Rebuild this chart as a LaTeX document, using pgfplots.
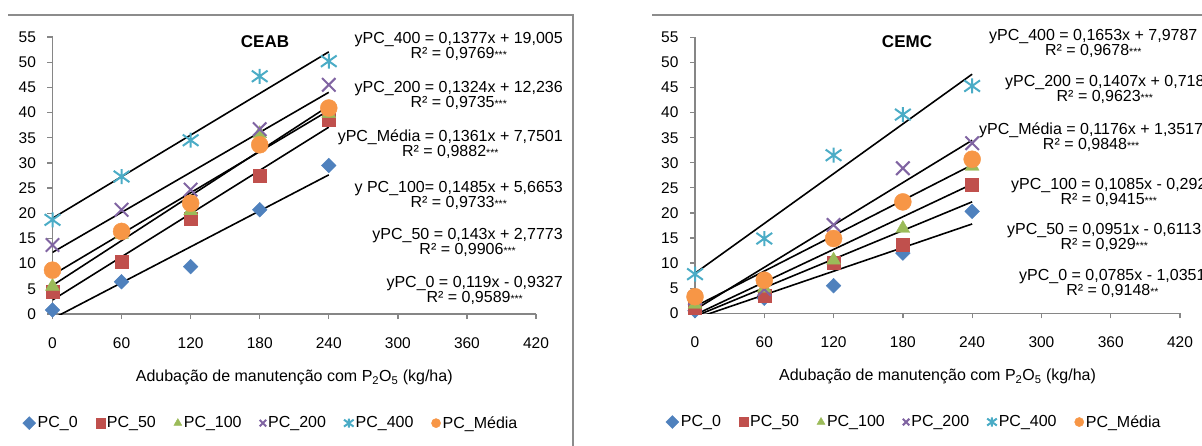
\documentclass[border=0pt]{standalone}
\usepackage{fontspec}
\setmainfont{Liberation Sans}
\usepackage{pgfplots}
\pgfplotsset{compat=1.18}
\definecolor{c0}{HTML}{4F81BD}
\definecolor{c50}{HTML}{C0504D}
\definecolor{c100}{HTML}{9BBB59}
\definecolor{c200}{HTML}{8064A2}
\definecolor{c400}{HTML}{4BACC6}
\definecolor{cmed}{HTML}{F79646}
\definecolor{axisgray}{HTML}{868686}
\definecolor{framegray}{HTML}{8C8C8C}
\newcommand{\ft}{\fontsize{16}{15}\selectfont}
\newcommand{\fk}{\fontsize{15.5}{15.5}\selectfont}
\newcommand{\st}{{\fontsize{10.5}{10}\selectfont***}}
\newcommand{\sst}{{\fontsize{10.5}{10}\selectfont**}}
\pgfdeclareplotmark{xstar}{%
  \pgfpathmoveto{\pgfqpoint{0pt}{\pgfplotmarksize}}%
  \pgfpathlineto{\pgfqpoint{0pt}{-\pgfplotmarksize}}%
  \pgfpathmoveto{\pgfqpoint{-1.05\pgfplotmarksize}{.75\pgfplotmarksize}}%
  \pgfpathlineto{\pgfqpoint{1.05\pgfplotmarksize}{-.75\pgfplotmarksize}}%
  \pgfpathmoveto{\pgfqpoint{-1.05\pgfplotmarksize}{-.75\pgfplotmarksize}}%
  \pgfpathlineto{\pgfqpoint{1.05\pgfplotmarksize}{.75\pgfplotmarksize}}%
  \pgfusepathqstroke}
\pgfplotsset{
  excel/.style={
    scale only axis, xmin=0, xmax=420, ymin=0, ymax=55,
    axis x line*=bottom, axis y line*=left,
    axis line style={draw=axisgray, line width=1.3pt, -},
    tick style={draw=axisgray, line width=1.3pt},
    tick align=outside, major tick length=5pt,
    xtick={0,60,...,420}, ytick={0,5,...,55},
    ticklabel style={font=\fk},
    /pgf/number format/assume math mode=true,
    yticklabel style={xshift=-8pt},
    xticklabel style={yshift=-15pt},
    legend columns=6,
    legend style={draw=none, fill=none, font=\ft, anchor=center,
      /tikz/every even column/.append style={column sep=16pt},
      /tikz/every odd column/.append style={column sep=0pt}},
    legend image code/.code={\draw[#1, mark size=4.6pt] plot coordinates {(0pt,0pt)};},
    xlabel style={font=\ft, anchor=center},
  },
  s0/.style={only marks, mark=square*, mark size=5.2pt, mark options={rotate=45, draw=c0, fill=c0}},
  s50/.style={only marks, mark=square*, mark size=6.5pt, mark options={draw=c50, fill=c50}},
  s100/.style={only marks, mark=triangle*, mark size=8pt, mark options={draw=c100, fill=c100}},
  s200/.style={only marks, mark=x, mark size=9.5pt, mark options={draw=c200, line width=2pt}},
  s400/.style={only marks, mark=xstar, mark size=7.5pt, mark options={draw=c400, line width=2pt}},
  smed/.style={only marks, mark=*, mark size=8.5pt, mark options={draw=cmed, fill=cmed}},
  tl/.style={black, line width=1.6pt, forget plot},
}
\begin{document}
\begin{tikzpicture}[x=1pt,y=1pt]
\path[use as bounding box] (0,0) rectangle (1202,445);
\clip (0,0) rectangle (1202,445);
\draw[framegray, line width=1.3pt] (8,430) -- (573,430) -- (573,-5);
\draw[framegray, line width=1.3pt] (652,430) -- (1215,430);
% ---------- CEAB ----------
\begin{axis}[excel, at={(52.5pt,131pt)}, anchor=south west, width=483.5pt, height=277pt,
  xlabel={Adubação de manutenção com P\textsubscript{2}O\textsubscript{5} (kg/ha)},
  xlabel style={at={(axis description cs:0.5,-0.23)}},
  legend style={at={(0.452,-0.394)}}]
\addplot[s0] coordinates {(0,0.8)(60,6.4)(120,9.4)(180,20.7)(240,29.5)};
\addlegendentry{PC\_0}
\addplot[s50] coordinates {(0,4.4)(60,10.4)(120,19.0)(180,27.4)(240,38.6)};
\addlegendentry{PC\_50}
\addplot[s100] coordinates {(0,5.5)(60,15.8)(120,20.5)(180,35.8)(240,39.8)};
\addlegendentry{PC\_100}
\addplot[s200] coordinates {(0,13.7)(60,20.7)(120,24.7)(180,36.7)(240,45.5)};
\addlegendentry{PC\_200}
\addplot[s400] coordinates {(0,18.7)(60,27.3)(120,34.5)(180,47.2)(240,50.2)};
\addlegendentry{PC\_400}
\addplot[smed] coordinates {(0,8.7)(60,16.4)(120,22.0)(180,33.6)(240,40.9)};
\addlegendentry{PC\_Média}
\addplot[tl] coordinates {(0,19.005)(240,52.053)};
\addplot[tl] coordinates {(0,12.236)(240,44.012)};
\addplot[tl] coordinates {(0,7.7501)(240,40.414)};
\addplot[tl] coordinates {(0,5.6653)(240,41.305)};
\addplot[tl] coordinates {(0,2.7773)(240,37.097)};
\addplot[tl] coordinates {(0,-0.9327)(240,27.627)};
\end{axis}
\node[font=\bfseries\fontsize{17}{17}\selectfont] at (265,403) {CEAB};
\begin{scope}[every node/.style={anchor=east, align=center, inner sep=0pt, font=\ft}]
\node at (563,399) {yPC\_400 = 0,1377x + 19,005\\R² = 0,9769\st};
\node at (563,350) {yPC\_200 = 0,1324x + 12,236\\R² = 0,9735\st};
\node at (563,301) {yPC\_Média = 0,1361x + 7,7501\\R² = 0,9882\st};
\node at (563,250) {y PC\_100= 0,1485x + 5,6653\\R² = 0,9733\st};
\node at (563,202.5) {yPC\_50 = 0,143x + 2,7773\\R² = 0,9906\st};
\node at (563,155) {yPC\_0 = 0,119x - 0,9327\\R² = 0,9589\st};
\end{scope}
% ---------- CEMC ----------
\begin{axis}[excel, at={(695pt,131.7pt)}, anchor=south west, width=485pt, height=276pt,
  xlabel={Adubação de manutenção com P\textsubscript{2}O\textsubscript{5} (kg/ha)},
  xlabel style={at={(axis description cs:0.5,-0.23)}},
  legend style={at={(0.452,-0.394)}}]
\addplot[s0] coordinates {(0,0.5)(60,3.0)(120,5.5)(180,12.0)(240,20.3)};
\addlegendentry{PC\_0}
\addplot[s50] coordinates {(0,1.2)(60,3.6)(120,10.0)(180,13.6)(240,25.6)};
\addlegendentry{PC\_50}
\addplot[s100] coordinates {(0,1.8)(60,5.0)(120,10.6)(180,16.9)(240,29.3)};
\addlegendentry{PC\_100}
\addplot[s200] coordinates {(0,3.0)(60,4.8)(120,17.6)(180,28.9)(240,33.9)};
\addlegendentry{PC\_200}
\addplot[s400] coordinates {(0,7.8)(60,14.9)(120,31.5)(180,39.6)(240,45.3)};
\addlegendentry{PC\_400}
\addplot[smed] coordinates {(0,3.3)(60,6.6)(120,14.9)(180,22.2)(240,30.7)};
\addlegendentry{PC\_Média}
\addplot[tl] coordinates {(0,7.9787)(240,47.651)};
\addplot[tl] coordinates {(0,0.718)(240,34.486)};
\addplot[tl] coordinates {(0,1.3517)(240,29.576)};
\addplot[tl] coordinates {(0,-0.292)(240,25.748)};
\addplot[tl] coordinates {(0,-0.6113)(240,22.213)};
\addplot[tl] coordinates {(0,-1.0351)(240,17.805)};
\end{axis}
\node[font=\bfseries\fontsize{17}{17}\selectfont] at (907,403) {CEMC};
\begin{scope}[every node/.style={anchor=west, align=center, inner sep=0pt, font=\ft}]
\node at (989,401.5) {yPC\_400 = 0,1653x + 7,9787\\R² = 0,9678\st};
\node at (1005,355.5) {yPC\_200 = 0,1407x + 0,718\\R² = 0,9623\st};
\node at (979,308) {yPC\_Média = 0,1176x + 1,3517\\R² = 0,9848\st};
\node at (1011,252.5) {yPC\_100 = 0,1085x - 0,292\\R² = 0,9415\st};
\node at (1007,207.5) {yPC\_50 = 0,0951x - 0,6113\\R² = 0,929\st};
\node at (1019,161.5) {yPC\_0 = 0,0785x - 1,0351\\R² = 0,9148\sst};
\end{scope}
\end{tikzpicture}
\end{document}
